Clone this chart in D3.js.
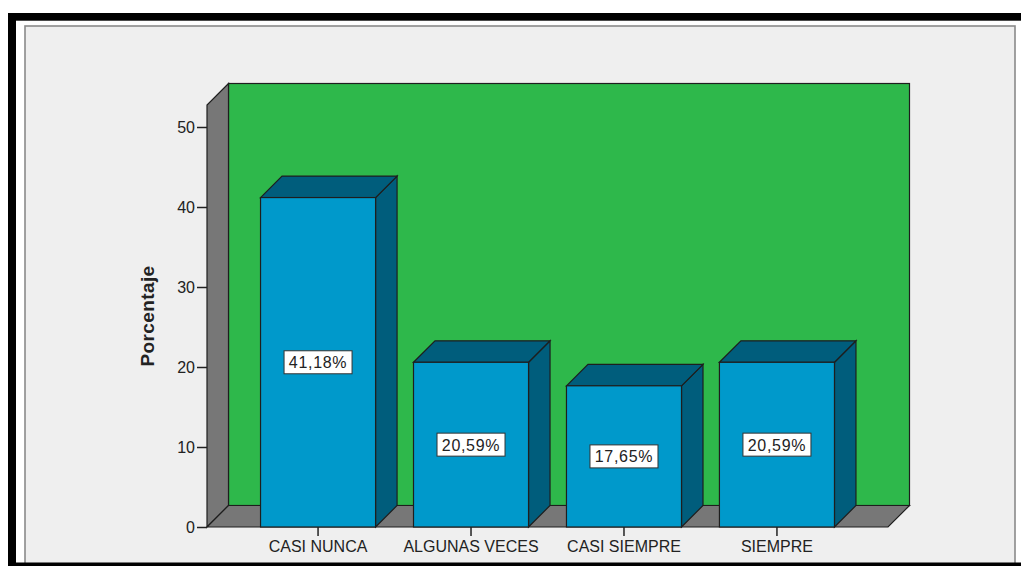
<!DOCTYPE html>
<html>
<head>
<meta charset="utf-8">
<script src="https://cdn.jsdelivr.net/npm/d3@7/dist/d3.min.js"></script>
<style>
  html, body { margin: 0; padding: 0; background: #ffffff; }
  svg { display: block; }
  text { font-family: "Liberation Sans", Arial, sans-serif; fill: #222; }
</style>
</head>
<body>
<svg id="chart" width="1021" height="566"></svg>
<script>
const categories = ["CASI NUNCA", "ALGUNAS VECES", "CASI SIEMPRE", "SIEMPRE"];
const values = [41.18, 20.59, 17.65, 20.59];
const yTicks = [0, 10, 20, 30, 40, 50];
const yTitle = "Porcentaje";

const svg = d3.select("#chart");
const W = 1021, H = 566;

// outer frame
svg.append("rect").attr("x", 0).attr("y", 0).attr("width", W).attr("height", H).attr("fill", "#ffffff");
svg.append("rect").attr("x", 25).attr("y", 26).attr("width", 990).attr("height", 560)
  .attr("fill", "#efefef").attr("stroke", "#8a8a8a").attr("stroke-width", 1.6);
svg.append("rect").attr("x", 8).attr("y", 13).attr("width", W - 8).attr("height", 7.7).attr("fill", "#000");
svg.append("rect").attr("x", 8).attr("y", 13).attr("width", 8).attr("height", H - 13).attr("fill", "#000");
svg.append("rect").attr("x", 8).attr("y", 562.5).attr("width", W - 8).attr("height", 4).attr("fill", "#000");

// scales
const x0 = 207, x1 = 888;
const y = d3.scaleLinear().domain([0, 50]).range([527, 127]);
const x = d3.scaleBand().domain(categories).range([x0, x1]).paddingInner(0.248).paddingOuter(0.35);
const d = 21.5; // 3D depth
const wallTop = y(50) - 22;

const edge = "#1e1e1e";
const green = "#2eb84b", gray = "#777777", blue = "#0099cb", dark = "#005d7c";

const g = svg.append("g");
// back wall
g.append("rect").attr("x", x0 + d).attr("y", wallTop - d)
  .attr("width", (x1 + d) - (x0 + d)).attr("height", y(0) - d - (wallTop - d))
  .attr("fill", green).attr("stroke", edge).attr("stroke-width", 1.2);
// left wall
g.append("polygon")
  .attr("points", [[x0, y(0)], [x0, wallTop], [x0 + d, wallTop - d], [x0 + d, y(0) - d]].join(" "))
  .attr("fill", gray).attr("stroke", edge).attr("stroke-width", 1.2);
// floor
g.append("polygon")
  .attr("points", [[x0, y(0)], [x0 + d, y(0) - d], [x1 + d, y(0) - d], [x1, y(0)]].join(" "))
  .attr("fill", gray).attr("stroke", edge).attr("stroke-width", 1.2);

// bars
categories.forEach((c, i) => {
  const v = values[i];
  const bx0 = x(c), bx1 = x(c) + x.bandwidth();
  const yv = y(v), yb = y(0);
  g.append("polygon")
    .attr("points", [[bx1, yv], [bx1 + d, yv - d], [bx1 + d, yb - d], [bx1, yb]].join(" "))
    .attr("fill", dark).attr("stroke", edge).attr("stroke-width", 1.2);
  g.append("polygon")
    .attr("points", [[bx0, yv], [bx0 + d, yv - d], [bx1 + d, yv - d], [bx1, yv]].join(" "))
    .attr("fill", dark).attr("stroke", edge).attr("stroke-width", 1.2);
  g.append("rect").attr("x", bx0).attr("y", yv).attr("width", bx1 - bx0).attr("height", yb - yv)
    .attr("fill", blue).attr("stroke", edge).attr("stroke-width", 1.2);
});

// value labels
const fmt = v => d3.format(".2f")(v).replace(".", ",") + "%";
categories.forEach((c, i) => {
  const v = values[i];
  const cx = x(c) + x.bandwidth() / 2;
  const cy = (y(v) + y(0)) / 2;
  g.append("rect").attr("x", cx - 34).attr("y", cy - 11.5).attr("width", 68).attr("height", 23)
    .attr("fill", "#ffffff").attr("stroke", "#333").attr("stroke-width", 1);
  g.append("text").attr("x", cx).attr("y", cy + 6)
    .attr("text-anchor", "middle").attr("font-size", 16).attr("letter-spacing", 0.7)
    .text(fmt(v));
});

// y axis
const yAxis = d3.axisLeft(y).tickValues(yTicks).tickSize(10).tickPadding(2).tickFormat(d3.format("d"));
const ya = svg.append("g").attr("transform", `translate(${x0},0)`).call(yAxis);
ya.select(".domain").remove();
ya.selectAll(".tick line").attr("stroke", "#222").attr("stroke-width", 1.5);
ya.selectAll(".tick text").attr("font-size", 16).attr("fill", "#222")
  .attr("font-family", "Liberation Sans, Arial, sans-serif");

// x axis
const xAxis = d3.axisBottom(x).tickSize(9).tickPadding(5);
const xa = svg.append("g").attr("transform", `translate(0,${y(0)})`).call(xAxis);
xa.select(".domain").remove();
xa.selectAll(".tick line").attr("stroke", "#222").attr("stroke-width", 1.5);
xa.selectAll(".tick text").attr("font-size", 16).attr("fill", "#222")
  .attr("font-family", "Liberation Sans, Arial, sans-serif");

// y title
svg.append("text").attr("transform", "translate(154,316) rotate(-90)")
  .attr("text-anchor", "middle").attr("font-size", 19).attr("font-weight", "bold")
  .attr("letter-spacing", 0.4).text(yTitle);
</script>
</body>
</html>
